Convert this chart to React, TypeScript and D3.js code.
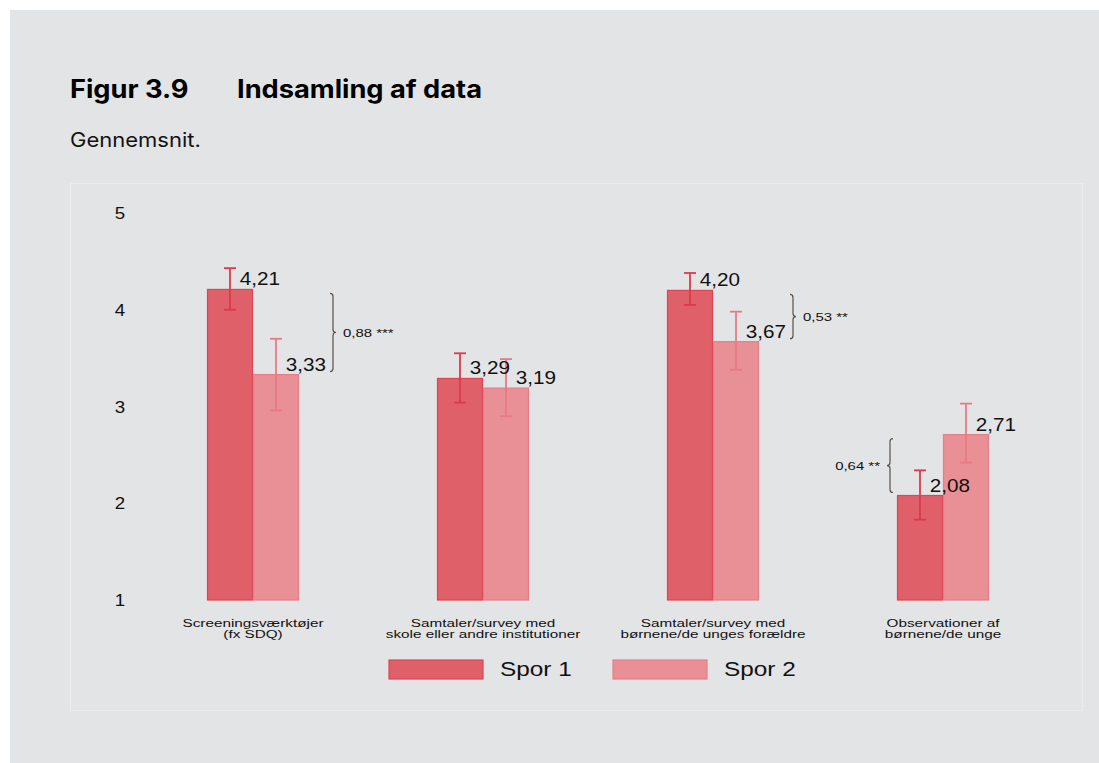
import React from "react";
import * as d3 from "d3";

const categories: string[][] = [
  ["Screeningsværktøjer", "(fx SDQ)"],
  ["Samtaler/survey med", "skole eller andre institutioner"],
  ["Samtaler/survey med", "børnene/de unges forældre"],
  ["Observationer af", "børnene/de unge"],
];
const seriesNames = ["Spor 1", "Spor 2"];
const spor1 = [4.21, 3.29, 4.2, 2.08];
const spor2 = [3.33, 3.19, 3.67, 2.71];
const spor1Low = [4.0, 3.04, 4.05, 1.83];
const spor1High = [4.43, 3.55, 4.38, 2.34];
const spor2Low = [2.96, 2.9, 3.38, 2.42];
const spor2High = [3.7, 3.49, 3.98, 3.03];
const yTicks = [1, 2, 3, 4, 5];
const diffCategory = [0, 2, 3];
const diffLabels = ["0,88 ***", "0,53 **", "0,64 **"];
const diffSide = ["right", "right", "left"];

const fill = ["#e0606a", "#e98f96"];
const stroke = ["#dd4554", "#e67e88"];
const errColor = ["#dc3a4a", "#e87a84"];

const fmt = (v: number) => v.toFixed(2).replace(".", ",");

function bracePath(x: number, y1: number, y2: number, dir: number) {
  const ym = (y1 + y2) / 2;
  const r = 3 * dir;
  return `M${x - r},${y1} Q${x},${y1} ${x},${y1 + 3} L${x},${ym - 3} Q${x},${ym} ${x + r},${ym} Q${x},${ym} ${x},${ym + 3} L${x},${y2 - 3} Q${x},${y2} ${x - r},${y2}`;
}

function T(props: {
  x: number; y: number; sx: number; size: number; anchor?: string; family: string;
  weight?: number; fill?: string; children: React.ReactNode;
}) {
  return (
    <text
      transform={`translate(${props.x},${props.y}) scale(${props.sx},1)`}
      textAnchor={props.anchor || "start"}
      fontFamily={props.family}
      fontSize={props.size}
      fontWeight={props.weight || 400}
      fill={props.fill || "#111"}
    >
      {props.children}
    </text>
  );
}

export default function App() {
  const W = 1099, H = 763;
  const x = d3.scaleBand<number>().domain(d3.range(categories.length)).range([138, 1058]);
  const y = d3.scaleLinear().domain([1, 5]).range([600, 213]);
  const barW = 46;
  const sf = "Liberation Sans, Arial, sans-serif";
  const inter = "Inter, sans-serif";
  const series = [spor1, spor2];
  const lows = [spor1Low, spor2Low];
  const highs = [spor1High, spor2High];

  return (
    <svg width={W} height={H} style={{ position: "absolute", left: 0, top: 0 }}>
      <rect x={0} y={0} width={W} height={H} fill="#ffffff" />
      <rect x={10} y={10} width={W - 10} height={H - 10} fill="#e3e4e6" />
      <T x={70} y={98} sx={1.09} size={25} family={inter} weight={700} fill="#000">Figur 3.9</T>
      <T x={237} y={98} sx={1.09} size={25} family={inter} weight={700} fill="#000">Indsamling af data</T>
      <T x={70} y={147} sx={1.1} size={20} family={inter}>Gennemsnit.</T>
      <rect x={70.5} y={183.5} width={1012} height={527} fill="none" stroke="#ececee" strokeWidth={1} />
      {yTicks.map((t) => (
        <T key={t} x={120} y={y(t) + 6} sx={1.1} size={17} anchor="middle" family={sf}>{t}</T>
      ))}
      {categories.map((c, i) => {
        const cx = (x(i) as number) + x.bandwidth() / 2;
        return (
          <g key={i}>
            {series.map((s, k) => {
              const bx = cx - barW + k * barW;
              const by = y(s[i]);
              return (
                <rect key={k} x={bx + 0.5} y={by} width={barW - 1} height={y(1) - by} fill={fill[k]} stroke={stroke[k]} strokeWidth={1.2} />
              );
            })}
            {series.map((s, k) => {
              const bx = cx - barW + k * barW;
              const ex = bx + barW / 2;
              return (
                <g key={"e" + k} stroke={errColor[k]} strokeWidth={1.8}>
                  <line x1={ex} x2={ex} y1={y(highs[k][i])} y2={y(lows[k][i])} />
                  <line x1={ex - 6} x2={ex + 6} y1={y(highs[k][i])} y2={y(highs[k][i])} />
                  <line x1={ex - 6} x2={ex + 6} y1={y(lows[k][i])} y2={y(lows[k][i])} />
                </g>
              );
            })}
            {series.map((s, k) => {
              const bx = cx - barW + k * barW;
              return (
                <T key={"t" + k} x={bx + barW + 7} y={y(s[i]) - 4} sx={1.15} size={18} anchor="middle" family={sf}>{fmt(s[i])}</T>
              );
            })}
            {c.map((line, j) => (
              <T key={"c" + j} x={cx} y={626.5 + j * 11.5} sx={1.33} size={11.5} anchor="middle" family={sf}>{line}</T>
            ))}
          </g>
        );
      })}
      {diffCategory.map((ci, n) => {
        const cx = (x(ci) as number) + x.bandwidth() / 2;
        const a = spor1[ci], b = spor2[ci];
        const y1 = y(Math.max(a, b)) + 4;
        const y2 = y(Math.min(a, b)) - 3;
        const right = diffSide[n] === "right";
        const bxp = right ? cx + barW + 34 : cx - barW - 7;
        const dir = right ? 1 : -1;
        return (
          <g key={n}>
            <path d={bracePath(bxp, y1, y2, dir)} fill="none" stroke="#5a5248" strokeWidth={1.2} />
            <T x={right ? bxp + 10 : bxp - 10} y={(y1 + y2) / 2 + 4} sx={1.3} size={11.5} anchor={right ? "start" : "end"} family={sf}>{diffLabels[n]}</T>
          </g>
        );
      })}
      {seriesNames.map((nm, k) => (
        <g key={nm}>
          <rect x={389 + k * 224} y={660} width={94} height={19} fill={fill[k]} stroke={stroke[k]} strokeWidth={1.2} />
          <T x={500 + k * 224} y={676} sx={1.16} size={21} family={sf}>{nm}</T>
        </g>
      ))}
    </svg>
  );
}
